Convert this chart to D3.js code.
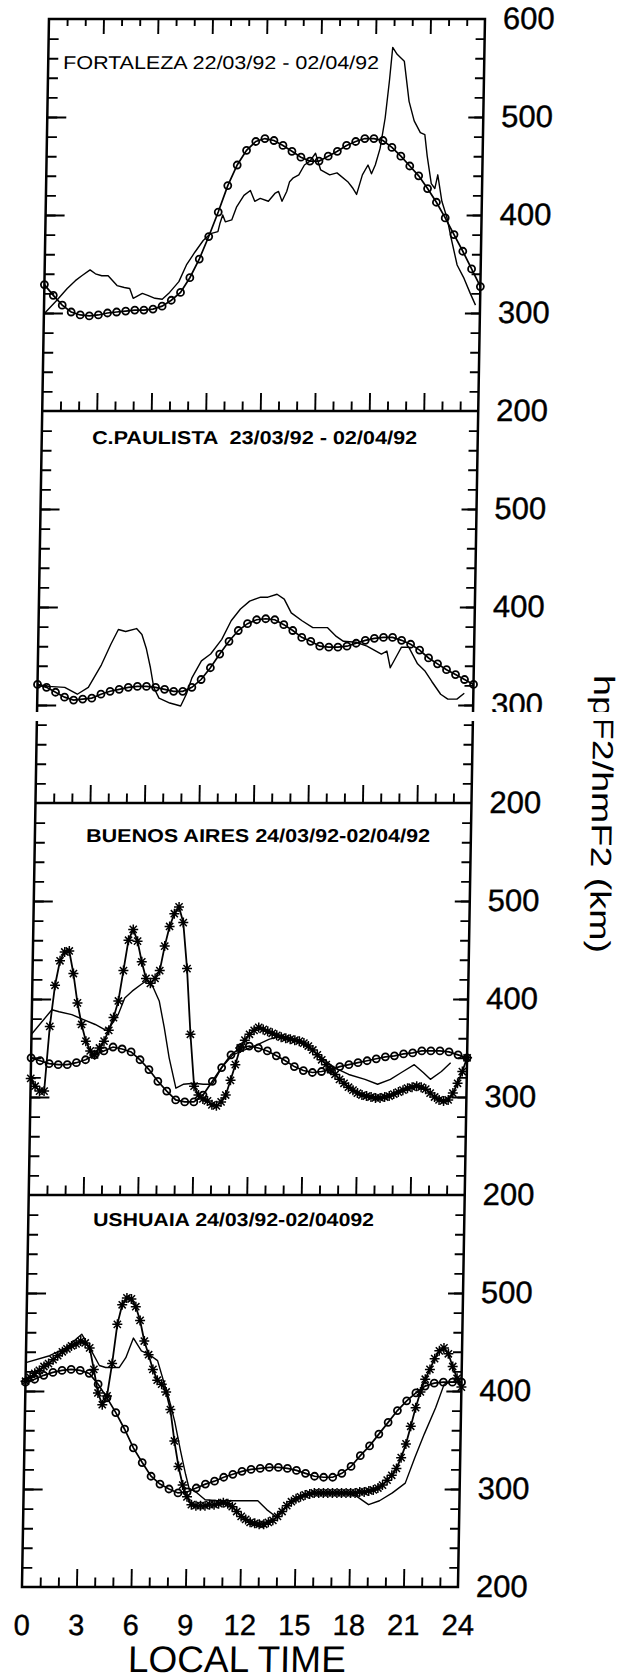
<!DOCTYPE html>
<html><head><meta charset="utf-8">
<script src="https://cdn.jsdelivr.net/npm/d3@7"></script>
<style>
body{margin:0;background:#fff}
svg{display:block}
text{font-family:"Liberation Sans",Arial,Helvetica,sans-serif;fill:#000}
</style>
</head><body>
<svg id="chart" width="634" height="1679"></svg>
<script>
// ---------- DATA ----------
const stationTitles = [
  "FORTALEZA 22/03/92 - 02/04/92",
  "C.PAULISTA  23/03/92 - 02/04/92",
  "BUENOS AIRES 24/03/92-02/04/92",
  "USHUAIA 24/03/92-02/04092"
];
const xTickLabels = [0,3,6,9,12,15,18,21,24];
const yTickLabels = [200,300,400,500,600];
const yAxisTitle = "hpF2/hmF2 (km)";
const xAxisTitle = "LOCAL TIME";

const modelHours = d3.range(0, 24.001, 0.5);     // model curve every half hour
const starHours  = d3.range(0, 24.001, 0.25);    // asterisk curve every quarter hour

// Fortaleza
const fortModel = [329,318,308,301,298,297,298,300,301,302,303,303,304,307,313,321,336,355,378,403,430,451,466,475,478,476,471,465,459,455,455,460,465,471,475,478,478,476,469,460,450,440,427,413,397,380,363,345,327];
const fortObs = [[0,299],[0.7,313],[1.26,325],[1.7,333],[2.05,338],[2.5,344],[2.8,340],[3.15,338],[3.5,338],[4.0,328],[4.4,326],[4.7,325],[4.9,315],[5.4,320],[5.7,318],[6.1,315],[6.5,314],[6.9,321],[7.4,332],[7.8,349],[8.25,362],[8.7,374],[9.1,381],[9.5,383],[9.6,391],[9.75,400],[9.9,393],[10.25,395],[10.5,408],[10.9,420],[11.25,425],[11.5,414],[11.8,417],[12.25,414],[12.6,422],[12.8,424],[13.0,414],[13.25,424],[13.4,434],[13.6,438],[13.9,441],[14.2,451],[14.5,455],[14.8,463],[15.1,446],[15.6,441],[16.0,443],[16.6,434],[16.9,427],[17.1,421],[17.4,441],[17.7,451],[17.9,442],[18.1,451],[18.35,468],[18.6,499],[18.8,537],[18.95,571],[19.2,564],[19.6,557],[19.9,516],[20.2,496],[20.55,484],[20.8,482],[20.95,460],[21.2,432],[21.4,427],[21.55,441],[21.8,414],[22.1,397],[22.35,376],[22.7,349],[23.1,335],[23.45,320],[23.75,308]];

// Cachoeira Paulista
const paulModel = [321,318,313,308,305,306,307,311,314,316,318,319,319,318,316,314,314,318,326,338,352,365,376,383,387,388,387,382,376,369,365,360,359,359,360,363,366,368,369,369,366,362,356,348,342,336,331,326,321];
const paulObs = [[0,321],[0.6,319],[1.5,318],[2.2,311],[2.8,318],[3.5,341],[4,362],[4.4,377],[4.8,375],[5.4,378],[5.7,372],[5.95,358],[6.2,338],[6.4,318],[6.7,307],[7.3,302],[7.9,299],[8.2,311],[8.5,328],[9.0,345],[9.5,352],[10.1,367],[10.6,386],[11.1,398],[11.6,406],[12.2,410],[12.6,410],[13.1,413],[13.5,408],[13.9,394],[14.5,386],[15.1,379],[15.5,379],[15.9,379],[16.4,370],[16.8,365],[17.5,364],[18.1,360],[18.6,355],[18.9,352],[19.2,355],[19.4,338],[19.8,352],[20.0,359],[20.4,359],[20.9,342],[21.3,335],[21.7,324],[22.2,311],[22.6,306],[23.1,306],[23.5,312]];

// Buenos Aires
const baModel = [340,337,334,333,333,335,338,343,347,351,349,346,338,328,316,306,297,295,295,302,316,330,343,350,352,350,347,342,337,331,327,325,326,328,331,333,335,337,339,341,342,344,345,347,347,347,346,343,340];
const baObs = [[0,364],[1.1,389],[1.5,387],[2.2,384],[2.85,379],[3.5,374],[4,369],[4.3,371],[4.75,384],[5.1,401],[5.5,408],[6.0,415],[6.3,419],[6.65,412],[7.0,398],[7.3,371],[7.6,340],[8.0,309],[8.4,313],[9.0,314],[9.5,313],[10.0,313],[10.5,330],[11.1,343],[11.75,348],[12.4,353],[13.1,359],[13.8,362],[14.4,359],[15.3,350],[16,340],[16.7,330],[17.5,323],[18.4,318],[19.1,313],[19.8,318],[20.4,325],[21.1,333],[21.6,325],[22,318],[22.6,326],[23.1,335]];
const baStar = [319,311,306,306, 372,414,439,448, 449,426,396,374, 357,347,343,350, 357,368,381,398, 429,460,471,459, 438,421,416,421, 429,454,474,487, 494,478,431,364, 311,302,298,296, 292,291,295,302, 317,333,350,358, 364,368,371,369, 367,365,363,361, 360,359,358,357, 355,352,348,343, 338,333,328,323, 318,314,310,307, 304,302,301,300, 299,299,300,301, 303,305,307,309, 310,311,310,308, 304,300,297,296, 297,304,314,326, 340];

// Ushuaia
const uModel = [409,412,416,419,421,422,421,418,407,393,378,361,342,327,313,305,300,296,297,301,305,308,312,315,318,320,321,322,322,321,319,316,313,312,312,316,323,334,344,356,368,380,390,398,405,408,409,409,409];
const uObs = [[0,429],[1.3,436],[2.2,444],[3.05,458],[3.6,441],[4.05,426],[4.4,424],[5.15,424],[5.5,434],[5.9,454],[6.35,441],[6.8,437],[7.25,431],[7.6,410],[7.9,393],[8.25,369],[8.6,339],[8.9,315],[9.1,301],[9.55,296],[10,289],[10.7,288],[11.2,288],[11.8,288],[12.9,288],[13.4,279],[13.9,272],[14.3,279],[15,291],[15.65,295],[16.5,296],[17.6,296],[18.3,293],[19,284],[19.6,288],[20.3,296],[21,306],[21.5,332],[22,356],[22.6,383],[23.05,407],[23.4,409],[24,409]];
const uStar = [410,414,418,421, 425,428,432,436, 440,443,446,448, 451,449,444,422, 398,386,395,428, 468,488,495,494, 486,472,451,437, 422,411,407,399, 381,349,323,304, 292,284,283,283, 283,284,284,285, 286,285,282,277, 272,269,266,265, 264,264,266,268, 272,277,283,287, 290,292,294,295, 296,296,296,296, 296,296,296,296, 296,296,297,297, 298,299,301,304, 309,314,321,332, 346,364,383,399, 412,422,433,441, 444,438,425,413, 404];

// ---------- LAYOUT ----------
const L = 49.3, R = 485.3, PH = 392;
const tops = [19, 411, 803, 1195];
const titleX = [64.2, 99.6, 100.5, 114.1];
const titleBase = [68.6, 443.6, 841.6, 1225.6];
const titleW = [316, 325, 344, 281];
const titleWeight = ["normal","bold","bold","bold"];

const panels = [
  {model: fortModel, obs: fortObs, star: null},
  {model: paulModel, obs: paulObs, star: null},
  {model: baModel, obs: baObs, star: baStar},
  {model: uModel, obs: uObs, star: uStar}
];

const svg = d3.select("#chart");
svg.append("rect").attr("width",634).attr("height",1679).attr("fill","#fff");
const root = svg.append("g").attr("transform","skewX(-0.9866)");

const x = d3.scaleLinear().domain([0,24]).range([L,R]);

const starPath = (()=>{const r=5,d=3.6;return `M${-r},0H${r}M0,${-r}V${r}M${-d},${-d}L${d},${d}M${-d},${d}L${d},${-d}`;})();

panels.forEach((p,i)=>{
  const top = tops[i];
  const y = d3.scaleLinear().domain([200,600]).range([top+PH, top]);
  const g = root.append("g");

  const minorV = d3.range(220,600,20);
  const majorV = [300,400,500];
  const styleAxis = sel => { sel.select(".domain").remove(); sel.selectAll("line").attr("stroke","#000").attr("stroke-width",1.9); sel.selectAll("text").remove(); };
  g.append("g").attr("transform",`translate(${L},0)`).call(d3.axisLeft(y).tickValues(minorV).tickSize(-10)).call(styleAxis);
  g.append("g").attr("transform",`translate(${L},0)`).call(d3.axisLeft(y).tickValues(majorV).tickSize(-19)).call(styleAxis);
  g.append("g").attr("transform",`translate(${R},0)`).call(d3.axisRight(y).tickValues(minorV).tickSize(-9)).call(styleAxis);
  g.append("g").attr("transform",`translate(${R},0)`).call(d3.axisRight(y).tickValues(majorV).tickSize(-15)).call(styleAxis);
  const hMinor = d3.range(1,24,1).filter(h=>h%3!==0);
  const hMajor = [3,6,9,12,15,18,21];
  g.append("g").attr("transform",`translate(0,${top+PH})`).call(d3.axisBottom(x).tickValues(hMinor).tickSize(-9.5)).call(styleAxis);
  g.append("g").attr("transform",`translate(0,${top+PH})`).call(d3.axisBottom(x).tickValues(hMajor).tickSize(-18)).call(styleAxis);
  if(i===0){
    g.append("g").attr("transform",`translate(0,${top})`).call(d3.axisTop(x).tickValues(hMinor).tickSize(-7)).call(styleAxis);
    g.append("g").attr("transform",`translate(0,${top})`).call(d3.axisTop(x).tickValues(hMajor).tickSize(-15)).call(styleAxis);
  }

  const lab = i===0 ? yTickLabels : yTickLabels.filter(v=>v<600);
  const ra = g.append("g").attr("transform",`translate(${R},0)`).call(d3.axisRight(y).tickValues(lab).tickSize(0).tickPadding(18));
  ra.select(".domain").remove();
  ra.selectAll("text").attr("font-size",31).attr("fill","#000").attr("stroke","#000").attr("stroke-width",0.4).attr("font-family","Liberation Sans, Arial, sans-serif");

  g.append("text").attr("x",titleX[i]).attr("y",titleBase[i])
    .attr("font-size",18.5).attr("font-weight",titleWeight[i])
    .attr("textLength",titleW[i]).attr("lengthAdjust","spacingAndGlyphs")
    .style("white-space","pre").text(stationTitles[i]);

  const lineGen = d3.line().x(d=>x(d[0])).y(d=>y(d[1]));
  g.append("path").datum(p.obs).attr("d",lineGen).attr("fill","none").attr("stroke","#000").attr("stroke-width",1.4).attr("stroke-linejoin","round");

  if(p.star){
    const sd = p.star.map((v,k)=>[starHours[k],v]);
    g.append("path").datum(sd).attr("d",lineGen).attr("fill","none").attr("stroke","#000").attr("stroke-width",1.8).attr("stroke-linejoin","round");
    g.selectAll(null).data(sd).enter().append("path")
      .attr("transform",d=>`translate(${x(d[0])},${y(d[1])})`)
      .attr("d",starPath).attr("stroke","#000").attr("stroke-width",1.5).attr("fill","none");
  }

  const md = p.model.map((v,k)=>[modelHours[k],v]);
  g.append("path").datum(md).attr("d",lineGen).attr("fill","none").attr("stroke","#000").attr("stroke-width",1.7);
  g.selectAll(null).data(md).enter().append("circle")
    .attr("cx",d=>x(d[0])).attr("cy",d=>y(d[1])).attr("r",3.5)
    .attr("fill","none").attr("stroke","#000").attr("stroke-width",1.8);
});

root.append("rect").attr("x",L).attr("y",tops[0]).attr("width",R-L).attr("height",PH*4)
  .attr("fill","none").attr("stroke","#000").attr("stroke-width",2.5);
tops.slice(1).forEach(t=>{
  root.append("line").attr("x1",L).attr("x2",R).attr("y1",t).attr("y2",t).attr("stroke","#000").attr("stroke-width",2.5);
});

const xb = root.append("g").attr("transform",`translate(0,${tops[3]+PH})`)
  .call(d3.axisBottom(x).tickValues(xTickLabels).tickSize(0).tickPadding(27));
xb.select(".domain").remove();
xb.selectAll("text").attr("font-size",29).attr("fill","#000").attr("stroke","#000").attr("stroke-width",0.4).attr("font-family","Liberation Sans, Arial, sans-serif");

root.append("text").attr("x",265.4).attr("y",1672).attr("text-anchor","middle")
  .attr("font-size",37).text(xAxisTitle);

root.append("text").attr("transform","translate(616,814) rotate(90)")
  .attr("text-anchor","middle").attr("dy","0.35em").attr("font-size",29)
  .attr("textLength",278).attr("lengthAdjust","spacingAndGlyphs").text(yAxisTitle);

// scan break in second panel
root.append("rect").attr("x",-40).attr("y",712).attr("width",720).attr("height",9).attr("fill","#fff");
</script>
</body></html>
